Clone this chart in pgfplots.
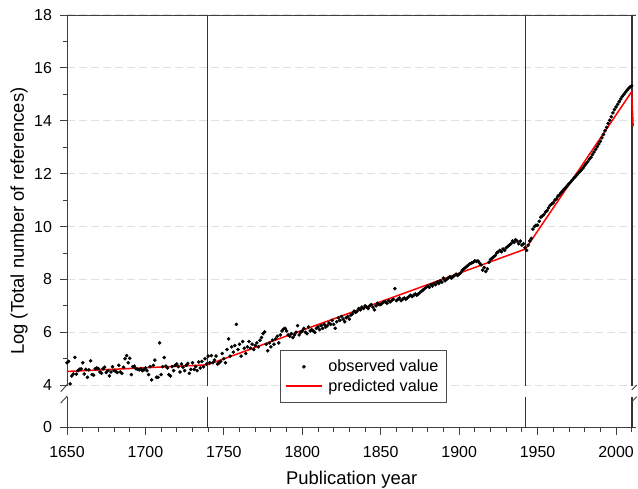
\documentclass[border=0pt]{standalone}
\usepackage{pgfplots}
\pgfplotsset{compat=1.18}
\usepackage{pgfplotstable}
\usepackage{fontspec}
\setmainfont{Liberation Sans}

\pgfplotstableread{
year val
1650 4.85
1651 4.90
1652 4.05
1653 4.35
1654 4.42
1655 5.05
1656 4.42
1657 4.55
1658 4.60
1659 4.62
1660 4.85
1661 4.42
1662 4.60
1663 4.30
1664 4.58
1665 4.92
1666 4.40
1667 4.38
1668 4.62
1669 4.65
1670 4.63
1671 4.50
1672 4.45
1673 4.62
1674 4.68
1675 4.48
1676 4.55
1677 4.35
1678 4.50
1679 4.70
1680 4.55
1681 4.52
1682 4.48
1683 4.75
1684 4.50
1685 4.45
1686 4.68
1687 5.00
1688 5.12
1689 4.85
1690 5.02
1691 4.40
1692 4.70
1693 4.72
1694 4.62
1695 4.60
1696 4.58
1697 4.62
1698 4.55
1699 4.58
1700 4.65
1701 4.55
1702 4.40
1703 4.70
1704 4.20
1705 4.75
1706 4.95
1707 4.30
1708 4.30
1709 5.60
1710 4.40
1711 4.70
1712 5.05
1713 4.72
1714 4.65
1715 4.40
1716 4.35
1717 4.70
1718 4.55
1719 4.75
1720 4.80
1721 4.70
1722 4.50
1723 4.80
1724 4.68
1725 4.55
1726 4.75
1727 4.82
1728 4.45
1729 4.60
1730 4.85
1731 4.60
1732 4.70
1733 4.55
1734 4.88
1735 4.65
1736 4.90
1737 4.70
1738 5.00
1739 4.80
1740 5.10
1741 4.85
1742 5.12
1743 4.85
1744 4.95
1745 5.10
1746 4.80
1747 4.85
1748 4.90
1749 5.20
1750 5.00
1751 4.85
1752 5.35
1753 5.75
1754 5.10
1755 5.45
1756 5.25
1757 5.50
1758 6.30
1759 5.35
1760 5.55
1761 5.10
1762 5.65
1763 5.40
1764 5.20
1765 5.45
1766 5.65
1767 5.40
1768 5.55
1769 5.35
1770 5.50
1771 5.60
1772 5.45
1773 5.70
1774 5.80
1775 5.95
1776 6.02
1777 5.55
1778 5.30
1779 5.60
1780 5.45
1781 5.70
1782 5.55
1783 5.75
1784 5.85
1785 5.60
1786 5.90
1787 6.05
1788 6.12
1789 6.15
1790 6.05
1791 5.90
1792 5.85
1793 5.95
1794 5.80
1795 5.90
1796 6.00
1797 6.25
1798 5.90
1799 6.00
1800 6.05
1801 6.15
1802 6.00
1803 5.95
1804 6.20
1805 6.05
1806 6.10
1807 6.05
1808 6.00
1809 6.15
1810 6.20
1811 6.10
1812 6.25
1813 6.15
1814 6.30
1815 6.20
1816 6.25
1817 6.35
1818 6.30
1819 6.45
1820 6.30
1821 6.15
1822 6.40
1823 6.55
1824 6.45
1825 6.60
1826 6.50
1827 6.40
1828 6.55
1829 6.60
1830 6.50
1831 6.65
1832 6.70
1833 6.80
1834 6.75
1835 6.80
1836 6.90
1837 6.85
1838 6.95
1839 6.90
1840 7.00
1841 6.95
1842 6.90
1843 7.00
1844 7.05
1845 6.95
1846 6.85
1847 7.00
1848 7.10
1849 7.05
1850 7.05
1851 7.10
1852 7.15
1853 7.15
1854 7.10
1855 7.20
1856 7.15
1857 7.20
1858 7.25
1859 7.65
1860 7.20
1861 7.25
1862 7.30
1863 7.20
1864 7.25
1865 7.30
1866 7.25
1867 7.30
1868 7.35
1869 7.40
1870 7.35
1871 7.40
1872 7.45
1873 7.40
1874 7.45
1875 7.50
1876 7.55
1877 7.60
1878 7.65
1879 7.70
1880 7.75
1881 7.70
1882 7.80
1883 7.75
1884 7.85
1885 7.80
1886 7.90
1887 7.85
1888 7.95
1889 7.90
1890 8.05
1891 7.95
1892 8.00
1893 8.05
1894 8.10
1895 8.05
1896 8.10
1897 8.15
1898 8.20
1899 8.15
1900 8.20
1901 8.25
1902 8.35
1903 8.40
1904 8.45
1905 8.50
1906 8.55
1907 8.60
1908 8.62
1909 8.65
1910 8.70
1911 8.68
1912 8.70
1913 8.62
1914 8.55
1915 8.35
1916 8.45
1917 8.30
1918 8.40
1919 8.65
1920 8.75
1921 8.80
1922 8.85
1923 8.90
1924 9.00
1925 9.05
1926 9.10
1927 9.05
1928 9.15
1929 9.10
1930 9.20
1931 9.25
1932 9.30
1933 9.35
1934 9.45
1935 9.40
1936 9.50
1937 9.45
1938 9.35
1939 9.45
1940 9.30
1941 9.35
1942 9.20
1943 9.10
1944 9.30
1945 9.45
1946 9.55
1947 9.90
1948 10.00
1949 10.05
1950 10.05
1951 10.20
1952 10.35
1953 10.40
1954 10.45
1955 10.55
1956 10.60
1957 10.70
1958 10.80
1959 10.85
1960 10.90
1961 11.00
1962 11.05
1963 11.15
1964 11.20
1965 11.28
1966 11.35
1967 11.42
1968 11.48
1969 11.55
1970 11.62
1971 11.68
1972 11.75
1973 11.82
1974 11.88
1975 11.95
1976 12.02
1977 12.08
1978 12.15
1979 12.22
1980 12.30
1981 12.38
1982 12.45
1983 12.55
1984 12.62
1985 12.72
1986 12.82
1987 12.92
1988 13.02
1989 13.12
1990 13.22
1991 13.35
1992 13.48
1993 13.62
1994 13.75
1995 13.90
1996 14.02
1997 14.15
1998 14.30
1999 14.42
2000 14.52
2001 14.62
2002 14.72
2003 14.82
2004 14.92
2005 15.00
2006 15.08
2007 15.15
2008 15.22
2009 15.28
2010 15.32
}\obs

\pgfplotstableread{
year val
1650 4.52
1739.5 4.77
1942.3 9.15
2010.0 15.10
2010.9 13.80
}\pred

\begin{document}
\begin{tikzpicture}
\begin{axis}[
  at={(0,0)}, anchor=south west,
  scale only axis, width=569.4bp, height=412.5bp,
  xmin=1650, xmax=2013, ymin=2.4, ymax=18,
  axis x line=box, axis y line=left,
  axis line style={-, black!75, line width=0.9bp},
  xtick={1650,1700,...,2000}, minor xtick={1660,1670,...,2010},
  ytick={2.4,4,6,...,18}, yticklabels={0,4,6,8,10,12,14,16,18},
  minor ytick={5,7,...,17},
  xtick pos=bottom, ytick pos=left,
  tick align=outside,
  major tick length=7bp, minor tick length=4bp,
  every tick/.style={black!75, line width=0.9bp},
  ymajorgrids,
  grid style={dash pattern=on 8bp off 4bp, color=black!12, line width=1bp},
  /pgf/number format/1000 sep={},
  /pgf/number format/assume math mode=true,
  ticklabel style={font=\fontsize{16}{19}\selectfont},
  xticklabel shift=8.5bp, yticklabel shift=4.5bp,
  label style={font=\fontsize{18.5}{22}\selectfont},
  xlabel={Publication year},
  ylabel={Log (Total number of references)},
  xlabel style={at={([yshift=-40.5bp]rel axis cs:0.5,0)}, anchor=north},
  ylabel style={at={([xshift=-48bp]rel axis cs:0,0.5)}, anchor=center},
  legend image code/.code={%
    \draw[mark repeat=2,mark phase=2,#1] plot coordinates {(0bp,0bp) (18bp,0bp) (36bp,0bp)};
    \path[draw=none,fill=none] (0bp,-1bp) rectangle (40bp,1bp);},
  legend style={at={(rel axis cs:0.374,0.188)}, anchor=north west,
    draw=black!70, font=\fontsize{16.3}{19}\selectfont,
    inner xsep=5bp, inner ysep=7.5bp, row sep=1bp, cells={anchor=west},
    nodes={inner sep=2.5bp}},
  legend cell align=left,
  clip=false,
]
\draw[black!80, line width=1.3bp] (axis cs:1739.5,18) -- (axis cs:1739.5,3.97);
\draw[black!80, line width=1.3bp] (axis cs:1739.5,3.553) -- (axis cs:1739.5,2.4);
\draw[black!80, line width=1.3bp] (axis cs:1942.3,18) -- (axis cs:1942.3,3.97);
\draw[black!80, line width=1.3bp] (axis cs:1942.3,3.553) -- (axis cs:1942.3,2.4);
\draw[black!80, line width=1.3bp] (axis cs:2010.2,18) -- (axis cs:2010.2,3.97);
\draw[black!80, line width=1.3bp] (axis cs:2010.2,3.553) -- (axis cs:2010.2,2.4);

\addplot[only marks, mark=*, mark size=1.6bp, draw=black, fill=black]
  table[x=year, y=val] {\obs};
\addlegendentry{observed value}
\addplot[draw=red, color=red, line width=1.5bp, no marks]
  table[x=year, y=val] {\pred};
\addlegendentry{predicted value}
\end{axis}
% axis break marks
\fill[white] (-2bp,30.5bp) rectangle (2bp,41.5bp);
\draw[black!75, line width=0.9bp] (-6.3bp,35.8bp) -- (0.3bp,43.0bp);
\draw[black!75, line width=0.9bp] (-6.3bp,24.5bp) -- (0.3bp,31.5bp);
\draw[black!75, line width=0.9bp] (564.7bp,37.5bp) -- (569.7bp,42.5bp);
\draw[black!75, line width=0.9bp] (564.7bp,25.8bp) -- (569.7bp,30.8bp);
\pgfresetboundingbox
\useasboundingbox (-67bp,-61.5bp) rectangle (571bp,427.5bp);
\end{tikzpicture}
\end{document}
